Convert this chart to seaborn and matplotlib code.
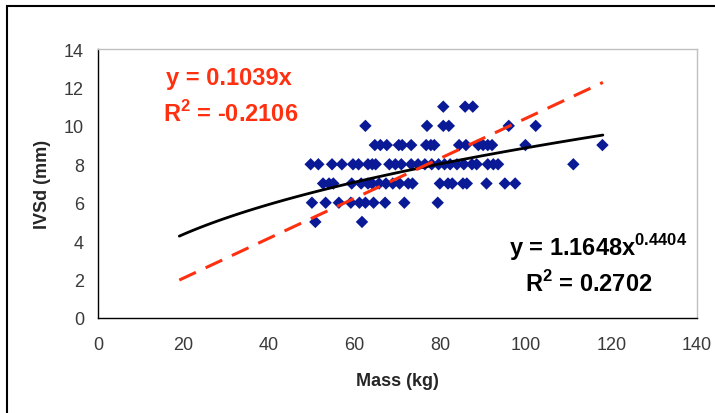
import numpy as np
import pandas as pd
import matplotlib
matplotlib.use("Agg")
import matplotlib.pyplot as plt
import seaborn as sns
from matplotlib.patches import Rectangle

# scatter data, grouped by IVSd value (mm)
mass_11 = [80.7, 85.8, 87.6]
mass_10 = [62.5, 76.9, 80.7, 82.0, 96.0, 102.3]
mass_9 = [64.7, 66.0, 67.5, 70.3, 71.1, 73.2, 76.7, 77.8, 78.6, 84.4, 86.0,
          88.9, 90.0, 91.1, 92.1, 99.9, 117.9]
mass_8 = [49.7, 51.5, 54.7, 57.0, 59.6, 60.9, 63.1, 64.1, 64.9, 68.1, 69.5,
          70.9, 73.2, 74.8, 76.4, 78.0, 79.6, 81.0, 82.3, 83.9, 85.5, 87.4,
          88.5, 91.1, 92.4, 93.5, 111.1]
mass_7 = [52.6, 54.0, 55.0, 59.3, 61.5, 63.1, 64.1, 65.7, 67.3, 68.9, 70.5,
          72.5, 73.5, 79.9, 81.8, 82.8, 85.3, 86.2, 90.8, 95.1, 97.5]
mass_6 = [50.0, 53.2, 56.3, 59.1, 61.1, 62.5, 64.4, 67.1, 71.6, 79.4]
mass_5 = [50.8, 61.7]

groups = {11: mass_11, 10: mass_10, 9: mass_9, 8: mass_8, 7: mass_7, 6: mass_6, 5: mass_5}
df = pd.DataFrame([(m, v) for v, ms in groups.items() for m in ms], columns=["mass", "ivsd"])

# trendline coefficients shown on the chart
lin_slope = 0.1039
pow_a, pow_b = 1.1648, 0.4404
trend_x = np.linspace(19, 118, 100)
trend = pd.DataFrame({"x": trend_x,
                      "lin": lin_slope * trend_x,
                      "pow": pow_a * trend_x ** pow_b})

sns.set_style("white")
plt.rcParams["font.family"] = ["Liberation Sans", "DejaVu Sans"]

fig = plt.figure(figsize=(7.15, 4.14), dpi=100)
ax = fig.add_axes([98 / 715, 1 - 319 / 414, (697 - 98) / 715, (319 - 50) / 414])

sns.scatterplot(data=df, x="mass", y="ivsd", marker="D", color="#0a1a96",
                s=40, edgecolor="none", ax=ax, zorder=3)
sns.lineplot(data=trend, x="x", y="pow", color="black", lw=2, ax=ax, zorder=4)
sns.lineplot(data=trend, x="x", y="lin", color="#ff3010", lw=2.2, ax=ax, zorder=5,
             dashes=False, linestyle=(0, (6, 3.5)))

ax.set_xlim(0, 140)
ax.set_ylim(0, 14)
ax.set_xticks(range(0, 141, 20))
ax.set_yticks(range(0, 15, 2))
ax.tick_params(axis="both", direction="out", length=5, width=1, color="black",
               labelsize=13, labelcolor="#3a3a3a")
ax.tick_params(axis="x", pad=8)
ax.tick_params(axis="y", pad=5)

for side in ["left", "bottom"]:
    ax.spines[side].set_color("black")
    ax.spines[side].set_linewidth(1)
for side in ["top", "right"]:
    ax.spines[side].set_color("#c0c0c0")
    ax.spines[side].set_linewidth(1)

ax.set_xlabel("Mass (kg)", fontsize=13, fontweight="bold", labelpad=14)
ax.set_ylabel("IVSd (mm)", fontsize=13, fontweight="bold", labelpad=9)

red = "#ff3010"
ax.text(0.218, 0.893, "y = 0.1039x", transform=ax.transAxes, color=red,
        fontsize=17, fontweight="bold", ha="center", va="center")
ax.text(0.222, 0.762, "R$^{\\mathregular{2}}$ = -0.2106", transform=ax.transAxes,
        color=red, fontsize=17, fontweight="bold", ha="center", va="center")
ax.text(0.835, 0.265, "y = 1.1648x$^{\\mathregular{0.4404}}$", transform=ax.transAxes,
        color="black", fontsize=17, fontweight="bold", ha="center", va="center")
ax.text(0.82, 0.13, "R$^{\\mathregular{2}}$ = 0.2702", transform=ax.transAxes,
        color="black", fontsize=17, fontweight="bold", ha="center", va="center")

# outer chart frame, cut off at right and bottom edges
fig.patches.append(Rectangle((7 / 715, -0.05), 1.0, 1 - 7 / 414 + 0.05,
                             transform=fig.transFigure, fill=False,
                             edgecolor="black", lw=1.5))

fig.savefig("out.png", dpi=100)
